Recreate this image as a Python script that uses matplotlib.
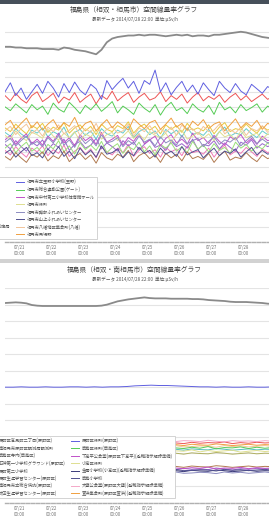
import numpy as np
import matplotlib
matplotlib.use("Agg")
import matplotlib.pyplot as plt
from matplotlib.patches import Rectangle

plt.rcParams['font.family'] = ['Noto Sans CJK JP', 'DejaVu Sans']

W, H = 269, 522
END_HOUR = 201  # 2014/07/20 13:00 -> 2014/07/28 22:00

tick_hours = [11, 35, 59, 83, 107, 131, 155, 179]
tick_labels = ["07/21\n00:00", "07/22\n00:00", "07/23\n00:00", "07/24\n00:00",
               "07/25\n00:00", "07/26\n00:00", "07/27\n00:00", "07/28\n00:00"]

# ---------------- chart 1 : 相馬市 (nSv/h) ----------------
title1 = "福島県（相双・相馬市）空間線量率グラフ"
sub1 = "最新データ 2014/07/28 22:00  単位:μSv/h"

names1 = ["相馬市中村観測所", "相馬市磯部公民館", "相馬市玉野", "相馬市日立木",
          "相馬市山上公民館", "相馬市総合福祉センター", "相馬市中村一般環境大気測定局", "相馬市岩子",
          "相馬市立玉野小学校(玉野)", "相馬市総合運動公園(ゲート)", "相馬市中村第二小学校体育館ホール",
          "相馬市役所", "相馬市磯部ふれあいセンター", "相馬市山上ふれあいセンター",
          "相馬市八幡地区集会所(八幡)", "相馬市馬場野"]
colors1 = ["#8a8a8a", "#ee5555", "#f07ab8", "#9a66cc", "#99e07a", "#b07a50", "#66cccc", "#e8c840",
           "#5f5fe0", "#55cc55", "#c050c8", "#dede90", "#8c8cc0", "#50508f", "#f2c49a", "#f0a040"]

s1_gray = [260,260,259,259,258,258,258,257,257,257,256,259,258,256,255,254,252,250,256,266,271,273,274,275,275,276,275,276,276,275,274,275,276,275,276,274,275,275,274,276,276,277,278,279,280,279,277,275,273,272,271]
s1_red = [195,188,198,190,185,195,200,187,192,198,185,193,189,199,186,192,197,184,195,190,201,188,194,199,186,193,198,189,192,200,187,195,190,197,185,193,199,188,194,190,196,186,193,198,189,195,187,192,197,190,194]
s1_pink = [122,116,127,119,113,125,120,128,115,123,118,129,114,121,126,117,124,112,127,120,116,125,119,130,114,122,127,118,123,113,126,120,124,115,128,119,121,117,125,113,123,129,116,121,118,126,120,114,124,119,122]
s1_purple = [130,124,135,127,121,133,128,136,123,131,126,137,122,130,134,125,129,138,124,132,127,121,135,128,133,123,130,136,126,129,122,134,127,131,125,137,123,130,128,135,124,132,126,121,133,129,136,125,131,127,130]
s1_lgreen = [125,131,119,127,133,121,126,118,130,124,135,120,128,117,132,123,129,122,134,119,126,131,118,127,123,133,120,128,116,130,125,132,121,127,119,134,124,129,120,131,122,126,118,133,125,130,121,128,124,132,126]
s1_brown = [114,109,119,112,106,117,113,120,108,115,111,121,107,114,118,110,116,105,119,112,109,117,113,122,107,115,119,111,116,106,118,112,117,108,120,111,114,110,118,106,115,121,109,113,111,119,112,107,116,111,114]
s1_cyan = [146,141,151,144,139,149,145,152,140,147,143,153,138,146,150,142,148,137,151,144,141,149,145,154,139,147,151,143,148,138,150,144,149,140,152,143,146,142,150,138,147,153,141,145,143,151,144,139,148,143,146]
s1_gold = [152,147,157,150,144,155,151,158,146,153,149,159,145,152,156,148,154,143,157,150,147,155,151,160,145,153,157,149,154,144,156,150,155,146,158,149,152,148,156,144,153,159,147,151,149,157,150,145,154,149,152]
s1_blue = [200,212,195,205,190,200,210,198,214,205,193,211,199,213,202,196,210,204,190,215,203,211,218,205,214,198,215,210,229,200,212,196,206,214,200,209,197,212,203,195,214,205,199,211,201,196,210,204,198,207,203]
s1_green = [180,175,184,178,172,183,176,181,170,185,177,173,186,179,171,182,176,184,174,180,187,172,181,176,170,185,178,173,183,169,180,186,175,179,171,184,177,173,182,170,186,176,180,172,183,175,179,184,173,181,177]
s1_magenta = [136,142,130,138,144,131,137,129,141,134,145,132,139,128,143,135,140,130,146,133,137,142,129,139,134,144,131,136,141,128,138,143,132,137,130,145,135,139,131,142,134,129,140,136,143,132,138,130,141,135,137]
s1_ygreen = [142,137,148,140,135,146,143,138,150,141,136,145,139,147,134,144,140,149,137,143,146,135,141,148,138,144,136,147,142,139,145,133,143,149,137,141,146,138,144,135,147,140,143,136,148,139,142,145,137,144,140]
s1_lavender = [133,138,128,135,141,130,134,127,139,132,142,129,136,126,140,131,137,128,143,132,134,139,127,135,130,141,133,137,128,140,132,136,129,142,131,135,138,127,134,140,130,136,133,139,128,135,141,131,137,132,134]
s1_navy = [118,123,113,120,126,115,119,112,124,117,127,114,121,111,125,116,122,113,128,117,119,124,112,120,115,126,118,122,113,125,117,121,114,127,116,120,123,112,119,125,115,121,118,124,113,120,126,116,122,117,119]
s1_peach = [148,154,143,151,157,145,150,141,153,147,156,144,149,155,142,151,146,158,143,150,154,145,148,157,141,152,147,155,144,150,146,153,142,156,148,151,143,154,147,149,157,144,150,145,153,142,151,148,155,146,150]
s1_orange = [156,162,150,158,165,152,160,149,157,163,151,159,154,166,150,158,161,148,156,163,152,160,155,149,164,157,151,159,162,150,157,165,153,158,149,161,155,163,151,157,160,148,156,164,152,159,154,162,150,158,155]

series1 = [s1_gray, s1_red, s1_pink, s1_purple, s1_lgreen, s1_brown, s1_cyan, s1_gold,
           s1_blue, s1_green, s1_magenta, s1_ygreen, s1_lavender, s1_navy, s1_peach, s1_orange]

# ---------------- chart 2 : 南相馬市 (nSv/h) ----------------
title2 = "福島県（相双・南相馬市）空間線量率グラフ"
sub2 = "最新データ 2014/07/28 22:00  単位:μSv/h"

names2 = ["原町区高見町二丁目(原町区)", "南相馬市原町区観測局観測所", "鹿島区寺内(鹿島区)",
          "石神第一小学校グラウンド(原町区)", "原町第二小学校", "原町生涯学習センター(原町区)",
          "南相馬市立総合病院(原町区)", "太田生涯学習センター(原町区)",
          "原町区役所(原町区)", "鹿島区役所(鹿島区)", "下高平公会堂(原町区下高平)(避難指示解除準備)",
          "小高区役所", "金房小学校(小高区)(避難指示解除準備)", "鹿島小学校",
          "大甕公会堂(原町区大甕)(避難指示解除準備)", "萱浜集会所(原町区萱浜)(避難指示解除準備)"]
colors2 = ["#8a8a8a", "#ee5555", "#f2c49a", "#55bbbb", "#b0b060", "#b07a50", "#9a66cc", "#8c8cc0",
           "#5f5fe0", "#55cc55", "#c050c8", "#dede90", "#3a3a7a", "#50508f", "#f4a8c8", "#f0a040"]

s2_gray = [606,607,608,607,605,600,598,597,597,597,597,597,597,597,597,597,597,597,598,601,606,611,614,617,619,621,623,621,620,620,620,619,619,619,619,618,618,617,615,614,613,612,610,609,609,609,608,607,606,604,603]
s2_red = [183,181,184,180,182,185,181,183,180,184,182,179,183,185,181,182,184,180,183,181,185,182,180,184,181,183,182,185,180,183,181,184,182,183]
s2_peach = [172,170,173,171,174,169,172,173,170,172,174,171,169,173,172,170,174,171,173,169,172,174,170,171,173,172,169,174,171,173,170,172,174,171]
s2_teal = [162,164,161,163,160,165,162,161,164,162,160,163,165,161,162,164,160,163,162,165,161,163,160,164,162,161,165,163,160,162,164,161,163,162]
s2_olive = [150,152,149,151,148,153,150,149,152,150,148,151,153,149,150,152,148,151,150,153,149,151,148,152,150,149,153,151,148,150,152,149,151,150]
s2_brown = [110,112,109,111,108,113,110,109,112,110,108,111,113,109,110,112,108,111,110,113,109,111,108,112,110,109,113,111,108,110,112,109,111,110]
s2_purple = [103,105,101,104,102,106,100,103,105,101,104,102,106,103,101,105,102,104,100,106,103,101,105,102,104,101,106,103,100,104,102,105,103,104]
s2_grayblue = [92,90,93,91,94,89,92,93,90,92,94,91,89,93,92,90,94,91,93,89,92,94,90,91,93,92,89,94,91,93,90,92,94,91]
s2_blue = [351,351,352,351,351,352,351,351,352,352,351,352,351,352,352,353,355,356,357,356,356,355,354,353,352,352,351,352,351,351,352,351,351,352]
s2_green = [168,165,170,166,169,164,167,171,165,168,166,170,164,167,169,165,171,166,168,164,170,167,165,169,166,171,164,168,167,170,165,169,166,168]
s2_magenta = [106,104,108,105,107,103,106,109,104,106,105,108,103,106,107,104,109,105,106,103,108,106,104,107,105,109,103,106,105,108,104,107,105,106]
s2_ygreen = [157,160,155,158,156,161,154,157,159,155,160,156,158,154,161,157,155,159,156,160,154,158,157,161,155,159,156,158,160,154,157,159,156,158]
s2_darknavy = [97,99,96,98,95,100,97,96,99,97,95,98,100,96,97,99,95,98,97,100,96,98,95,99,97,96,100,98,95,97,99,96,98,97]
s2_navy = [100,98,101,99,102,97,100,101,98,100,102,99,97,101,100,98,102,99,101,97,100,102,98,99,101,100,97,102,99,101,98,100,102,99]
s2_lpink = [188,186,189,187,185,190,187,188,186,189,187,185,190,188,186,189,187,188,185,190,187,186,189,188,186,190,187,185,189,187,188,186,189,187]
s2_orange = [176,178,175,177,174,179,176,175,178,176,174,177,179,175,176,178,174,177,176,179,175,177,174,178,176,175,179,177,174,176,178,175,177,176]

series2 = [s2_gray, s2_red, s2_peach, s2_teal, s2_olive, s2_brown, s2_purple, s2_grayblue,
           s2_blue, s2_green, s2_magenta, s2_ygreen, s2_darknavy, s2_navy, s2_lpink, s2_orange]


def rect(l, t, r, b):
    return [l / W, 1 - b / H, (r - l) / W, (b - t) / H]


fig = plt.figure(figsize=(W / 100, H / 100), dpi=100)
fig.patch.set_facecolor("white")

# top dark strip and separator band
fig.patches.append(Rectangle((0, 1 - 4 / H), 1, 4 / H, transform=fig.transFigure,
                             facecolor="#46505a", edgecolor="none"))
fig.patches.append(Rectangle((0, 1 - 263 / H), 1, 4 / H, transform=fig.transFigure,
                             facecolor="#d2d2d2", edgecolor="none"))


def draw_chart(pos, ymax, ystep, names, colors, series, title, sub, ty, sy, leg_anchor, leg_spacing):
    ax = fig.add_axes(pos)
    for i, (vals, c) in enumerate(zip(series, colors)):
        v = np.array(vals) / 1000.0
        x = np.linspace(0, END_HOUR, len(v))
        ax.plot(x, v, color=c, lw=1.3 if i == 0 else 0.7, label=names[i], zorder=3 if i == 0 else 2)
    ax.set_xlim(0, END_HOUR)
    ax.set_ylim(0, ymax)
    ax.set_yticks(np.arange(0, ymax, ystep))
    ax.grid(axis="y", color="#e4e4e4", lw=0.8)
    ax.set_axisbelow(True)
    for s in ["top", "right", "left"]:
        ax.spines[s].set_visible(False)
    ax.spines["bottom"].set_color("#b0b0b0")
    ax.spines["bottom"].set_linewidth(1.0)
    ax.spines["bottom"].set_linestyle((0, (2.5, 1.2)))
    ax.set_xticks(tick_hours)
    ax.set_xticklabels(tick_labels)
    ax.tick_params(axis="x", length=0, pad=2.5, labelsize=3.1, labelcolor="#707070")
    ax.tick_params(axis="y", left=False, labelleft=False)
    for lbl in ax.get_xticklabels():
        lbl.set_linespacing(1.15)
    leg = ax.legend(ncol=2, loc="upper right", bbox_to_anchor=leg_anchor,
                    bbox_transform=fig.transFigure, borderaxespad=0, fontsize=3.1,
                    frameon=True, fancybox=False, framealpha=1, edgecolor="#cccccc",
                    handlelength=1.9, handletextpad=0.7, columnspacing=1.2,
                    labelspacing=leg_spacing, borderpad=0.45)
    leg.get_frame().set_linewidth(0.6)
    for t in leg.get_texts():
        t.set_color("#555555")
    fig.text(0.5, 1 - ty / H, title, ha="center", va="center", fontsize=4.9, color="#444444")
    fig.text(0.5, 1 - sy / H, sub, ha="center", va="center", fontsize=3.3, color="#555555")
    return ax


draw_chart(rect(5, 25, 273, 242), 0.289, 0.02, names1, colors1, series1, title1, sub1, 10, 19,
           (97 / W, 1 - 177 / H), 0.55)
draw_chart(rect(5, 288, 273, 503), 0.6515, 0.05, names2, colors2, series2, title2, sub2, 270, 279,
           (175 / W, 1 - 436 / H), 0.5)

fig.savefig("out.png", dpi=100, facecolor="white")
